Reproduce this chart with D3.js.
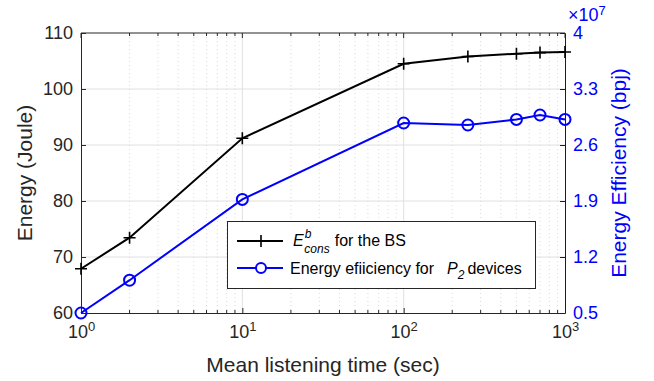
<!DOCTYPE html>
<html><head><meta charset="utf-8">
<script src="https://cdn.jsdelivr.net/npm/d3@7"></script>
<style>body{margin:0;background:#fff}svg{display:block}text{font-family:"Liberation Sans",Arial,sans-serif}</style>
</head><body><svg id="c" width="654" height="381"></svg>
<script>
const xVals = [1, 2, 10, 100, 250, 500, 700, 1000];
const energyBS = [67.9, 73.45, 91.2, 104.5, 105.8, 106.3, 106.5, 106.6];
const efficiency = [0.5, 0.91, 1.92, 2.875, 2.85, 2.92, 2.975, 2.92]; // x 1e7
const leftTicks = [60, 70, 80, 90, 100, 110];
const rightTicks = [0.5, 1.2, 1.9, 2.6, 3.3, 4];
const xTicks = [1, 10, 100, 1000];

const svg = d3.select("#c");
const L = 81, R = 565, T = 33, B = 313;
const x = d3.scaleLog().domain([1, 1000]).range([L, R]);
const yL = d3.scaleLinear().domain([60, 110]).range([B, T]);
const yR = d3.scaleLinear().domain([0.5, 4]).range([B, T]);
const blue = "#0000ff";
const ink = "#262626";

// minor grid
const minor = [];
for (let d = 1; d < 1000; d *= 10) for (let k = 2; k <= 9; k++) minor.push(d * k);
svg.append("g").selectAll("line").data(minor).join("line")
  .attr("x1", d => x(d)).attr("x2", d => x(d)).attr("y1", T).attr("y2", B)
  .attr("stroke", "#d0d0d0").attr("stroke-width", 0.8).attr("stroke-dasharray", "1,3");
// major grid
svg.append("g").selectAll("line").data(xTicks.slice(1, 3)).join("line")
  .attr("x1", d => x(d)).attr("x2", d => x(d)).attr("y1", T).attr("y2", B)
  .attr("stroke", "#e0e0e0").attr("stroke-width", 1);
svg.append("g").selectAll("line").data(leftTicks.slice(1, 5)).join("line")
  .attr("x1", L).attr("x2", R).attr("y1", d => yL(d)).attr("y2", d => yL(d))
  .attr("stroke", "#e0e0e0").attr("stroke-width", 1);

// axes
const fmtPow = (g) => {
  g.selectAll(".tick text").text(null).each(function(d) {
    const t = d3.select(this);
    t.append("tspan").text("10");
    t.append("tspan").attr("dy", "-0.5em").attr("font-size", "13px").text(Math.round(Math.log10(d)));
  });
};
const xAxis = svg.append("g").attr("transform", `translate(0,${B})`)
  .call(d3.axisBottom(x).tickValues(xTicks).tickSizeInner(-5).tickSizeOuter(0).tickPadding(12));
xAxis.selectAll("text").attr("font-size", "18px");
xAxis.call(fmtPow);
svg.append("g").selectAll("line").data(minor).join("line")
  .attr("x1", d => x(d)).attr("x2", d => x(d)).attr("y1", B).attr("y2", B - 3).attr("stroke", ink);
svg.append("g").selectAll("line").data(minor).join("line")
  .attr("x1", d => x(d)).attr("x2", d => x(d)).attr("y1", T).attr("y2", T + 3).attr("stroke", ink);
svg.append("g").selectAll("line").data(xTicks).join("line")
  .attr("x1", d => x(d)).attr("x2", d => x(d)).attr("y1", T).attr("y2", T + 5).attr("stroke", ink);
svg.append("line").attr("x1", L).attr("x2", R).attr("y1", T).attr("y2", T).attr("stroke", ink);

const yAxisL = svg.append("g").attr("transform", `translate(${L},0)`)
  .call(d3.axisLeft(yL).tickValues(leftTicks).tickSizeInner(-5).tickSizeOuter(0).tickPadding(8));
const yAxisR = svg.append("g").attr("transform", `translate(${R},0)`)
  .call(d3.axisRight(yR).tickValues(rightTicks).tickFormat(d3.format("")).tickSizeInner(-5).tickSizeOuter(0).tickPadding(8));

[xAxis, yAxisL].forEach(g => {
  g.selectAll("path,line").attr("stroke", ink);
  g.selectAll("text").attr("fill", ink);
});
yAxisL.selectAll("text").attr("font-size", "18px");
yAxisR.selectAll("path,line").attr("stroke", blue);
yAxisR.selectAll("text").attr("fill", blue).attr("font-size", "18px");

// lines
const lineL = d3.line().x((d, i) => x(xVals[i])).y(d => yL(d));
const lineR = d3.line().x((d, i) => x(xVals[i])).y(d => yR(d));
svg.append("path").datum(energyBS).attr("d", lineL).attr("fill", "none").attr("stroke", "#000").attr("stroke-width", 2);
svg.append("path").datum(efficiency).attr("d", lineR).attr("fill", "none").attr("stroke", blue).attr("stroke-width", 2);
const plus = (g, cx, cy, s) => g.append("path").attr("d", `M${cx - s},${cy}H${cx + s}M${cx},${cy - s}V${cy + s}`).attr("stroke", "#000").attr("stroke-width", 1.6);
energyBS.forEach((v, i) => plus(svg, x(xVals[i]), yL(v), 6));
svg.append("g").selectAll("circle").data(efficiency).join("circle")
  .attr("cx", (d, i) => x(xVals[i])).attr("cy", d => yR(d)).attr("r", 5.5)
  .attr("fill", "none").attr("stroke", blue).attr("stroke-width", 2);

// labels
svg.append("text").attr("x", (L + R) / 2).attr("y", 372).attr("text-anchor", "middle")
  .attr("font-size", "21px").attr("fill", ink).text("Mean listening time (sec)");
svg.append("text").attr("transform", `translate(32,173) rotate(-90)`).attr("text-anchor", "middle")
  .attr("font-size", "21px").attr("fill", ink).text("Energy (Joule)");
svg.append("text").attr("transform", `translate(626,173) rotate(-90)`).attr("text-anchor", "middle")
  .attr("font-size", "21px").attr("fill", blue).text("Energy Efficiency (bpj)");
const mult = svg.append("text").attr("x", 568).attr("y", 21).attr("font-size", "18px").attr("fill", blue);
mult.append("tspan").text("\u00d710");
mult.append("tspan").attr("dy", "-0.5em").attr("font-size", "13px").text("7");

// legend
const lg = svg.append("g");
lg.append("rect").attr("x", 227.5).attr("y", 221.5).attr("width", 308).attr("height", 67)
  .attr("fill", "#fff").attr("stroke", ink).attr("stroke-width", 1);
lg.append("line").attr("x1", 237).attr("x2", 283).attr("y1", 241).attr("y2", 241).attr("stroke", "#000").attr("stroke-width", 2);
plus(lg, 261, 241, 6);
lg.append("line").attr("x1", 237).attr("x2", 283).attr("y1", 268).attr("y2", 268).attr("stroke", blue).attr("stroke-width", 2);
lg.append("circle").attr("cx", 261).attr("cy", 268).attr("r", 5).attr("fill", "#fff").attr("stroke", blue).attr("stroke-width", 2);
const t1 = lg.append("text").attr("x", 293).attr("y", 246).attr("font-size", "16px").attr("fill", "#000");
t1.append("tspan").attr("font-style", "italic").text("E");
t1.append("tspan").attr("font-style", "italic").attr("font-size", "12px").attr("dx", "1").attr("dy", "-8").text("b");
t1.append("tspan").attr("font-style", "italic").attr("font-size", "12px").attr("dx", "-7").attr("dy", "15").text("cons");
t1.append("tspan").attr("dy", "-7").attr("dx", "5").text("for the BS");
const t2 = lg.append("text").attr("x", 290).attr("y", 274).attr("font-size", "16px").attr("fill", "#000");
t2.append("tspan").text("Energy efiiciency for");
t2.append("tspan").attr("font-style", "italic").attr("dx", "13").text("P");
t2.append("tspan").attr("font-style", "italic").attr("font-size", "12px").attr("dy", "5").text("2");
t2.append("tspan").attr("dy", "-5").attr("dx", "3").text("devices");
</script></body></html>
